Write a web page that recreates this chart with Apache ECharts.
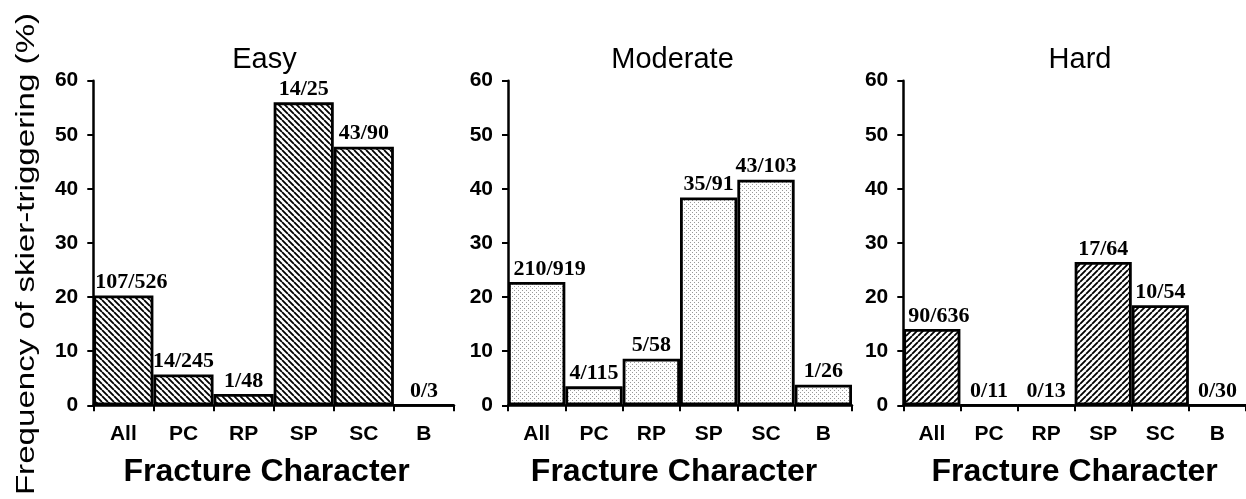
<!DOCTYPE html>
<html>
<head>
<meta charset="utf-8">
<script src="https://cdn.jsdelivr.net/npm/echarts@6/dist/echarts.min.js"></script>
<style>html,body{margin:0;padding:0;background:#fff;}#c{width:1246px;height:499px;}</style>
</head>
<body>
<div id="c"></div>
<script>
// ---- data ----
const categories = ['All', 'PC', 'RP', 'SP', 'SC', 'B'];
const panelTitles = ['Easy', 'Moderate', 'Hard'];
const easyValues = [20.3, 5.7, 2.1, 56.0, 47.8, 0];
const moderateValues = [22.8, 3.5, 8.6, 38.4, 41.7, 3.8];
const hardValues = [14.1, 0, 0, 26.5, 18.5, 0];
const easyLabels = ['107/526', '14/245', '1/48', '14/25', '43/90', '0/3'];
const moderateLabels = ['210/919', '4/115', '5/58', '35/91', '43/103', '1/26'];
const hardLabels = ['90/636', '0/11', '0/13', '17/64', '10/54', '0/30'];
const yMin = 0, yMax = 60, yInterval = 10;
const xAxisName = 'Fracture Character';
const yAxisName = 'Frequency of skier-triggering (%)';

// ---- patterns ----
function hatch(forward) {
  const s = 6, c = document.createElement('canvas');
  c.width = s; c.height = s;
  const g = c.getContext('2d');
  g.fillStyle = '#fff'; g.fillRect(0, 0, s, s);
  g.strokeStyle = '#000'; g.lineWidth = 1.8;
  g.beginPath();
  for (const k of [-s, 0, s]) {
    if (forward) { g.moveTo(k, s); g.lineTo(k + s, 0); }
    else { g.moveTo(k, 0); g.lineTo(k + s, s); }
  }
  g.stroke();
  return { image: c, repeat: 'repeat' };
}
function dots() {
  const s = 4, c = document.createElement('canvas');
  c.width = s; c.height = s;
  const g = c.getContext('2d');
  g.fillStyle = '#fff'; g.fillRect(0, 0, s, s);
  g.fillStyle = '#999';
  g.fillRect(0, 0, 1, 1); g.fillRect(2, 2, 1, 1);
  return { image: c, repeat: 'repeat' };
}

const panels = [
  { values: easyValues, labels: easyLabels, fill: hatch(false), left: 93.3, width: 360.7, titleX: 259.5, nameShift: 14, allShift: 8 },
  { values: moderateValues, labels: moderateLabels, fill: dots(), left: 508, width: 344, titleX: 667.5, nameShift: 12, allShift: 13 },
  { values: hardValues, labels: hardLabels, fill: hatch(true), left: 903.3, width: 349.5, titleX: 1075, nameShift: 0, allShift: 7 }
];

const sans = 'Liberation Sans';
const serif = 'Liberation Serif';

const option = {
  backgroundColor: '#fff',
  animation: false,
  title: panels.map((p, i) => ({
    text: panelTitles[i], left: p.titleX, top: 40, textAlign: 'center',
    textStyle: { fontFamily: sans, fontSize: 29, fontWeight: 'normal', color: '#000' }
  })),
  grid: panels.map(p => ({ left: p.left, width: p.width, top: 80.7, height: 324.6, containLabel: false })),
  xAxis: panels.map((p, i) => ({
    type: 'category', gridIndex: i, data: categories,
    name: xAxisName, nameLocation: 'middle', nameGap: 51,
    nameTextStyle: { fontFamily: sans, fontSize: 32, fontWeight: 'bold', color: '#000', padding: [0, p.nameShift, 0, 0] },
    axisLine: { lineStyle: { color: '#000', width: 2.5 } },
    axisTick: { show: true, length: 6, lineStyle: { color: '#000', width: 2 } },
    axisLabel: { fontFamily: sans, fontSize: 21, fontWeight: 'bold', color: '#000', margin: 18, interval: 0 },
    splitLine: { show: false }
  })),
  yAxis: panels.map((p, i) => ({
    type: 'value', gridIndex: i, min: yMin, max: yMax, interval: yInterval,
    axisLine: { show: true, lineStyle: { color: '#000', width: 2.5 } },
    axisTick: { show: true, length: 6, lineStyle: { color: '#000', width: 2 } },
    axisLabel: { fontFamily: sans, fontSize: 21, fontWeight: 'bold', color: '#000', margin: 15 },
    splitLine: { show: false }
  })),
  series: panels.map((p, i) => ({
    type: 'bar', xAxisIndex: i, yAxisIndex: i,
    barCategoryGap: '0%',
    itemStyle: { color: p.fill, borderColor: '#000', borderWidth: 2.8 },
    label: {
      show: true, position: 'top', distance: 2,
      fontFamily: serif, fontSize: 22, fontWeight: 'bold', color: '#000',
      formatter: (d) => p.labels[d.dataIndex]
    },
    data: p.values.map((v, j) => j === 0 ? { value: v, label: { offset: [p.allShift, 0] } } : v)
  })),
  graphic: [{
    type: 'text', x: 27, y: 254, rotation: Math.PI / 2, scaleX: 1.38, scaleY: 1.05,
    style: { text: yAxisName, fontFamily: sans, fontSize: 24, fill: '#000', align: 'center', verticalAlign: 'middle' }
  }]
};

const chart = echarts.init(document.getElementById('c'), null, { renderer: 'canvas' });
chart.setOption(option);
</script>
</body>
</html>
